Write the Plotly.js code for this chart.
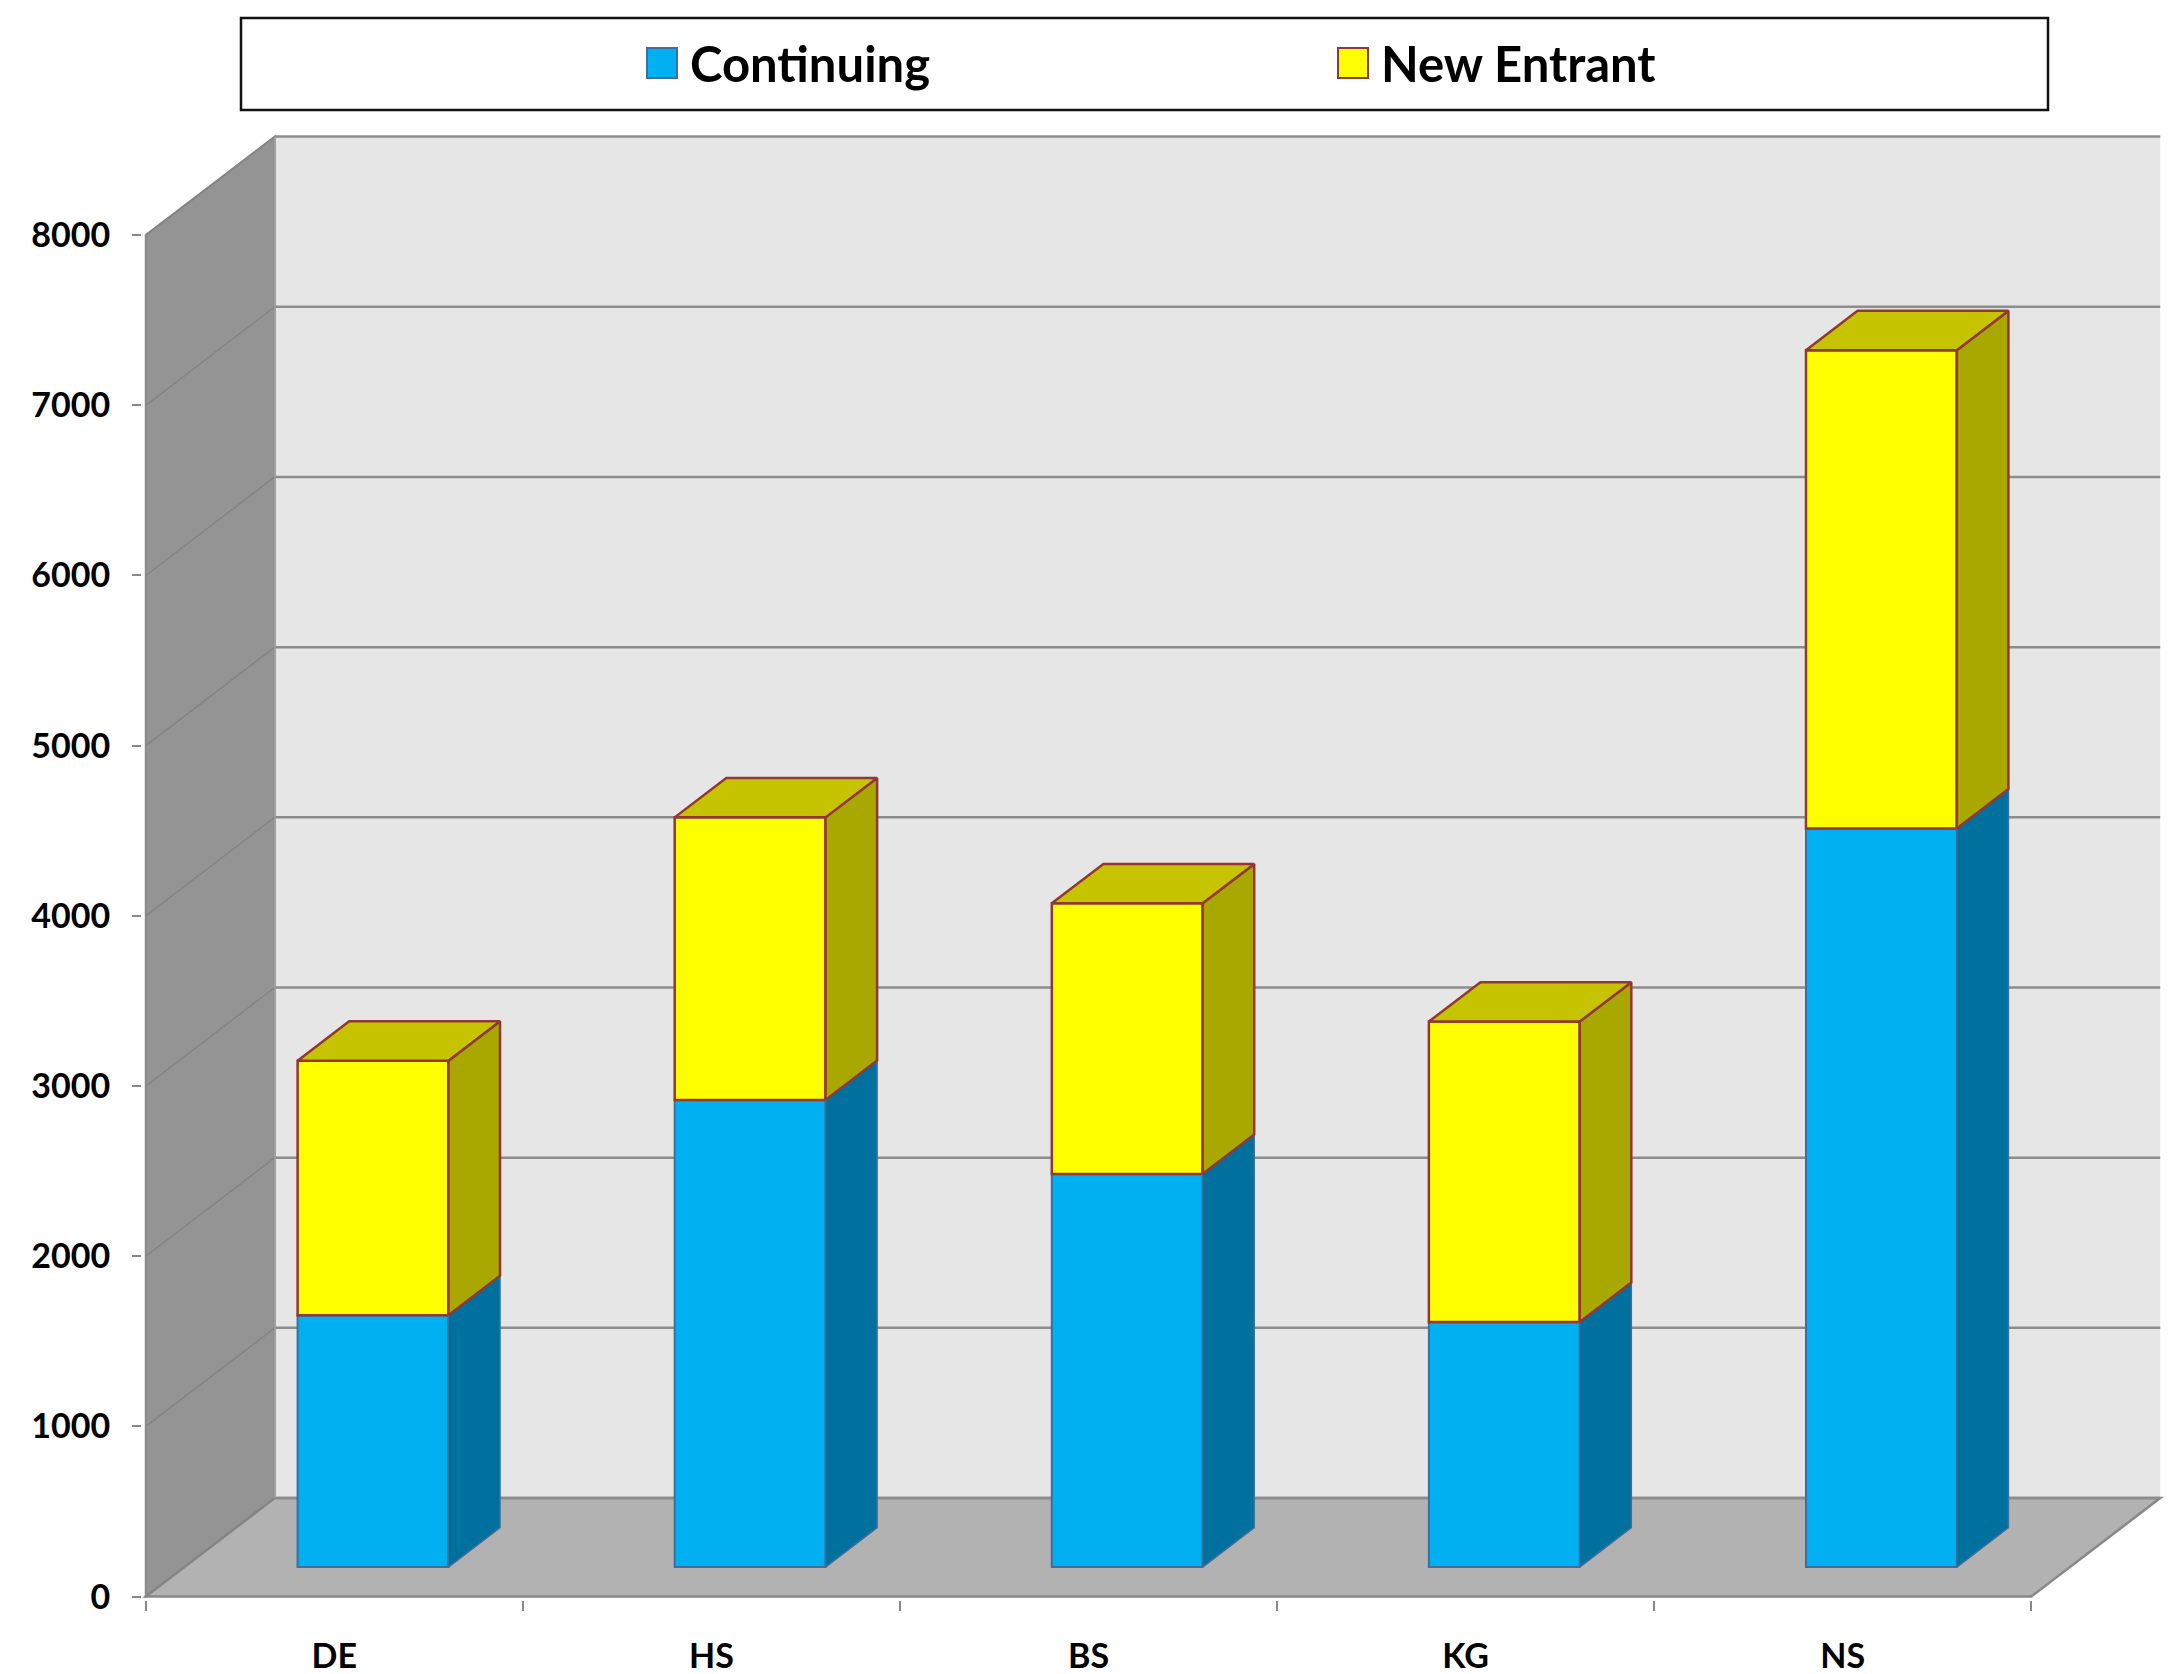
<!DOCTYPE html>
<html>
<head>
<meta charset="utf-8">
<script src="https://cdn.plot.ly/plotly-3.0.1.min.js"></script>
<style>html,body{margin:0;padding:0;background:#fff;}#chart{width:2171px;height:1674px;}</style>
</head>
<body>
<div id="chart"></div>
<script>
// ---- data ----
const categories = ['DE', 'HS', 'BS', 'KG', 'NS'];
const continuing = [1480, 2745, 2310, 1440, 4340];
const newEntrant = [1495, 1660, 1590, 1765, 2810];
const yTickValues = [0, 1000, 2000, 3000, 4000, 5000, 6000, 7000, 8000];
const seriesNames = ['Continuing', 'New Entrant'];

// ---- 3D look geometry (in axis units) ----
const DX = 0.342;      // depth offset along x (category units)
const DY = 579;        // depth offset along y (value units)
const FRONT_GAP = 0.3; // depth fraction before bar front face
const BAR_DEPTH = 0.4; // depth fraction of bar
const BAR_W = 0.4;     // bar width (category units)
const YMAX = 8000;

const W = 2171, H = 1674;
const M = {l: 142, r: 7, t: 133, b: 74};
const XR = [-0.51, categories.length - 0.5 + DX + 0.01];
const YR = [-20, 8600];
const px2x = p => (p - M.l) / (W - M.l - M.r);
const px2y = p => (H - M.b - p) / (H - M.t - M.b);

const idx = categories.map((_, i) => i);
const boundaries = idx.map(i => i - 0.5).concat([categories.length - 0.5]);

const colors = {
  contFront: '#00b0f0', contSide: '#00709e', contLine: '#3f6e9c',
  neFront: '#ffff00', neSide: '#a8a800', neTop: '#c6c400', neLine: '#943634'
};

const base0 = FRONT_GAP * DY;
const off = FRONT_GAP * DX - BAR_W / 2;
const sdx = BAR_DEPTH * DX, sdy = BAR_DEPTH * DY;

// front faces (bars)
const contBase = idx.map(() => base0);
const neBase = continuing.map(v => base0 + v);

const traces = [
  {type: 'bar', name: seriesNames[0], x: idx, y: continuing, base: contBase,
   width: BAR_W, offset: off, marker: {color: colors.contFront, line: {color: colors.contLine, width: 2}},
   showlegend: false, hoverinfo: 'skip'},
  {type: 'bar', name: seriesNames[1], x: idx, y: newEntrant, base: neBase,
   width: BAR_W, offset: off, marker: {color: colors.neFront, line: {color: colors.neLine, width: 2.5}},
   showlegend: false, hoverinfo: 'skip'}
];

// side and top faces built from the same data
function poly(build) {
  const xs = [], ys = [];
  idx.forEach(i => {
    const pts = build(i);
    pts.forEach(p => { xs.push(p[0]); ys.push(p[1]); });
    xs.push(null); ys.push(null);
  });
  return {xs, ys};
}
const contSide = poly(i => {
  const xr = i + off + BAR_W, b = base0, t = base0 + continuing[i];
  return [[xr, b], [xr + sdx, b + sdy], [xr + sdx, t + sdy], [xr, t], [xr, b]];
});
const neSide = poly(i => {
  const xr = i + off + BAR_W, b = base0 + continuing[i], t = b + newEntrant[i];
  return [[xr, b], [xr + sdx, b + sdy], [xr + sdx, t + sdy], [xr, t], [xr, b]];
});
const neTop = poly(i => {
  const xl = i + off, xr = xl + BAR_W, t = base0 + continuing[i] + newEntrant[i];
  return [[xl, t], [xr, t], [xr + sdx, t + sdy], [xl + sdx, t + sdy], [xl, t]];
});
[[contSide, colors.contSide, colors.contLine, 1.5],
 [neSide, colors.neSide, colors.neLine, 2.5],
 [neTop, colors.neTop, colors.neLine, 2.5]].forEach(([p, fc, lc, lw]) => {
  traces.push({type: 'scatter', mode: 'lines', x: p.xs, y: p.ys, fill: 'toself',
    fillcolor: fc, line: {color: lc, width: lw}, connectgaps: false,
    showlegend: false, hoverinfo: 'skip'});
});

// ---- walls, floor and gridlines ----
const xF0 = -0.5, xF1 = categories.length - 0.5;
const xB0 = xF0 + DX, xB1 = xF1 + DX;
const shapes = [];
const path = pts => 'M' + pts.map(p => p[0] + ',' + p[1]).join('L') + 'Z';
shapes.push({type: 'path', xref: 'x', yref: 'y', layer: 'below',
  path: path([[xB0, DY], [xB1, DY], [xB1, YMAX + DY], [xB0, YMAX + DY]]),
  fillcolor: '#e6e6e6', line: {width: 0}});
shapes.push({type: 'path', xref: 'x', yref: 'y', layer: 'below',
  path: path([[xF0, 0], [xB0, DY], [xB0, YMAX + DY], [xF0, YMAX]]),
  fillcolor: '#949494', line: {color: '#8a8a8a', width: 2}});
shapes.push({type: 'path', xref: 'x', yref: 'y', layer: 'below',
  path: path([[xF0, 0], [xF1, 0], [xB1, DY], [xB0, DY]]),
  fillcolor: '#b2b2b2', line: {color: '#888888', width: 2.5}});
yTickValues.forEach(v => {
  shapes.push({type: 'line', xref: 'x', yref: 'y', layer: 'below',
    x0: xB0, x1: xB1, y0: v + DY, y1: v + DY, line: {color: '#8c8c8c', width: 2.5}});
  shapes.push({type: 'line', xref: 'x', yref: 'y', layer: 'below',
    x0: xF0, x1: xB0, y0: v, y1: v + DY, line: {color: '#848484', width: 1.5}});
});
shapes.push({type: 'line', xref: 'x', yref: 'y', layer: 'below',
  x0: xB0, x1: xB0, y0: DY, y1: YMAX + DY, line: {color: '#a0a0a0', width: 1.5}});

// ---- legend (drawn manually for large swatches) ----
shapes.push({type: 'rect', xref: 'paper', yref: 'paper', layer: 'above',
  x0: px2x(241), x1: px2x(2048), y0: px2y(110), y1: px2y(18),
  fillcolor: '#ffffff', line: {color: '#111111', width: 2.5}});
const legendSw = [[647, colors.contFront, colors.contLine], [1338, colors.neFront, colors.neLine]];
legendSw.forEach(([x, fc, lc]) => {
  shapes.push({type: 'rect', xref: 'paper', yref: 'paper', layer: 'above',
    x0: px2x(x), x1: px2x(x + 30), y0: px2y(78), y1: px2y(48),
    fillcolor: fc, line: {color: lc, width: 2}});
});
const legendFont = {family: 'Lato, sans-serif', size: 49, weight: 700, color: '#000'};
const annotations = [
  {text: seriesNames[0], x: px2x(688), y: px2y(63), xref: 'paper', yref: 'paper',
   xanchor: 'left', yanchor: 'middle', showarrow: false, font: legendFont},
  {text: seriesNames[1], x: px2x(1379), y: px2y(63), xref: 'paper', yref: 'paper',
   xanchor: 'left', yanchor: 'middle', showarrow: false, font: legendFont}
];

const tickFont = {family: 'Lato, sans-serif', size: 34, weight: 700, color: '#000'};
const layout = {
  width: W, height: H, margin: M,
  paper_bgcolor: '#ffffff', plot_bgcolor: 'rgba(0,0,0,0)',
  barmode: 'overlay', showlegend: false,
  xaxis: {range: XR, tickmode: 'array', tickvals: idx, ticktext: categories,
    ticks: '', showgrid: false, zeroline: false, showline: false,
    tickfont: tickFont, ticklabelstandoff: 33,
    minor: {tickmode: 'array', tickvals: boundaries, ticks: 'outside', ticklen: 10,
      tickwidth: 2, tickcolor: '#888888', showgrid: false}},
  yaxis: {range: YR, tickmode: 'array', tickvals: yTickValues, ticks: 'outside',
    ticklen: 9, tickwidth: 2, tickcolor: '#888888', showgrid: false, zeroline: false,
    showline: false, tickfont: tickFont, ticklabelstandoff: 15},
  shapes: shapes, annotations: annotations
};
Plotly.newPlot('chart', traces, layout, {staticPlot: true, displayModeBar: false});
</script>
</body>
</html>
